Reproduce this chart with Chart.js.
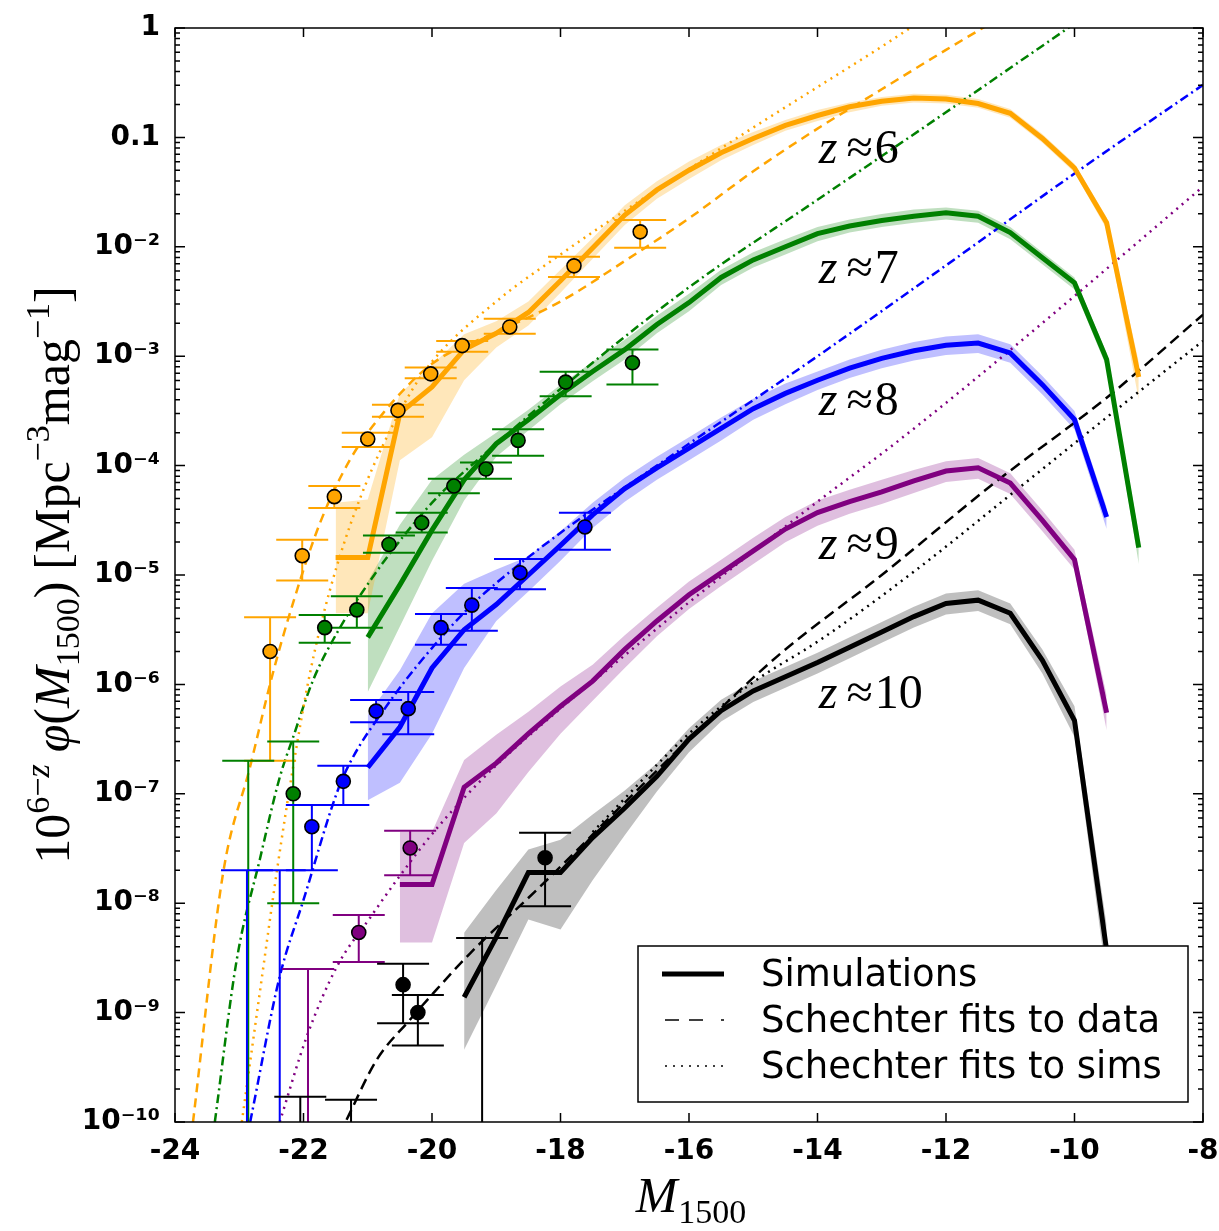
<!DOCTYPE html>
<html><head><meta charset="utf-8">
<script src="https://cdn.jsdelivr.net/npm/chart.js@4.4.0/dist/chart.umd.min.js"></script>
<style>html,body{margin:0;padding:0;background:#fff}canvas{display:block}</style>
</head><body>
<canvas id="c" width="1219" height="1231"></canvas>
<script>
// ---------- axis ticks ----------
const xTickVals = [-24,-22,-20,-18,-16,-14,-12,-10,-8];
const xTickLabels = ['-24','-22','-20','-18','-16','-14','-12','-10','-8'];
const yTickVals = [1e-10,1e-9,1e-8,1e-7,1e-6,1e-5,1e-4,1e-3,1e-2,0.1,1];
const yTickLabels = ['10\u207B\u00B9\u2070','10\u207B\u2079','10\u207B\u2078','10\u207B\u2077','10\u207B\u2076','10\u207B\u2075','10\u207B\u2074','10\u207B\u00B3','10\u207B\u00B2','0.1','1'];

// ---------- simulations (log10 phi) ----------
const simM = [-21.5,-21,-20.5,-20,-19.5,-19,-18.5,-18,-17.5,-17,-16.5,-16,-15.5,-15,-14.5,-14,-13.5,-13,-12.5,-12,-11.5,-11,-10.5,-10,-9.5,-9];
const sim6   = [-4.84,-4.84,-3.52,-3.28,-2.94,-2.79,-2.60,-2.31,-2.01,-1.71,-1.48,-1.30,-1.14,-1.01,-0.89,-0.80,-0.72,-0.67,-0.64,-0.65,-0.69,-0.78,-1.01,-1.28,-1.78,-3.19];
const sim6Hi = [-4.34,-4.31,-3.34,-3.08,-2.80,-2.68,-2.50,-2.21,-1.92,-1.62,-1.40,-1.22,-1.07,-0.95,-0.84,-0.75,-0.68,-0.63,-0.60,-0.61,-0.65,-0.74,-0.97,-1.24,-1.73,-3.05];
const sim6Lo = [-5.35,-5.35,-3.95,-3.74,-3.22,-2.92,-2.72,-2.42,-2.11,-1.80,-1.56,-1.38,-1.21,-1.07,-0.94,-0.85,-0.77,-0.71,-0.68,-0.69,-0.73,-0.82,-1.05,-1.32,-1.84,-3.40];
const sim7   = [null,-5.57,-5.09,-4.59,-4.13,-3.80,-3.58,-3.35,-3.14,-2.94,-2.71,-2.51,-2.28,-2.12,-2.00,-1.88,-1.81,-1.76,-1.72,-1.69,-1.72,-1.87,-2.10,-2.33,-3.03,-4.75];
const sim7Hi = [null,-5.06,-4.54,-4.13,-3.90,-3.70,-3.49,-3.26,-3.05,-2.85,-2.63,-2.43,-2.21,-2.05,-1.93,-1.82,-1.75,-1.70,-1.66,-1.64,-1.67,-1.82,-2.05,-2.28,-2.97,-4.62];
const sim7Lo = [null,-6.07,-5.47,-4.87,-4.32,-3.92,-3.68,-3.44,-3.23,-3.03,-2.79,-2.59,-2.35,-2.19,-2.07,-1.95,-1.87,-1.82,-1.78,-1.75,-1.78,-1.93,-2.16,-2.39,-3.10,-4.90];
const sim8   = [null,-6.76,-6.39,-5.85,-5.50,-5.27,-5.00,-4.73,-4.45,-4.21,-4.02,-3.84,-3.66,-3.48,-3.34,-3.22,-3.11,-3.02,-2.95,-2.90,-2.88,-2.97,-3.26,-3.58,-4.47,null];
const sim8Hi = [null,-6.28,-5.87,-5.35,-5.08,-4.95,-4.83,-4.60,-4.34,-4.11,-3.92,-3.74,-3.56,-3.39,-3.25,-3.14,-3.03,-2.94,-2.87,-2.82,-2.80,-2.89,-3.18,-3.50,-4.38,null];
const sim8Lo = [null,-7.06,-6.90,-6.45,-5.85,-5.42,-5.15,-4.87,-4.57,-4.33,-4.13,-3.95,-3.77,-3.58,-3.44,-3.31,-3.20,-3.11,-3.04,-2.99,-2.97,-3.06,-3.35,-3.67,-4.58,null];
const sim9   = [null,null,-7.83,-7.83,-6.94,-6.72,-6.45,-6.20,-5.97,-5.68,-5.42,-5.18,-4.98,-4.78,-4.58,-4.43,-4.33,-4.24,-4.14,-4.05,-4.02,-4.16,-4.50,-4.86,-6.26,null];
const sim9Hi = [null,null,-7.35,-7.35,-6.69,-6.46,-6.25,-6.02,-5.82,-5.55,-5.30,-5.06,-4.86,-4.66,-4.47,-4.32,-4.22,-4.13,-4.04,-3.96,-3.93,-4.07,-4.41,-4.77,-6.10,null];
const sim9Lo = [null,null,-8.36,-8.36,-7.45,-7.18,-6.80,-6.45,-6.15,-5.85,-5.56,-5.31,-5.10,-4.90,-4.70,-4.55,-4.44,-4.35,-4.25,-4.15,-4.12,-4.26,-4.60,-4.95,-6.42,null];
const sim10   = [null,null,null,null,-8.86,-8.31,-7.72,-7.72,-7.40,-7.13,-6.84,-6.50,-6.24,-6.06,-5.93,-5.80,-5.66,-5.52,-5.38,-5.26,-5.23,-5.35,-5.78,-6.33,-8.43,null];
const sim10Hi = [null,null,null,null,-8.27,-7.88,-7.51,-7.42,-7.19,-6.97,-6.72,-6.40,-6.14,-5.97,-5.84,-5.71,-5.57,-5.43,-5.29,-5.17,-5.14,-5.26,-5.68,-6.20,-8.20,null];
const sim10Lo = [null,null,null,null,-9.34,-8.75,-8.15,-8.24,-7.79,-7.38,-6.98,-6.62,-6.34,-6.16,-6.03,-5.90,-5.76,-5.62,-5.48,-5.36,-5.33,-5.45,-5.90,-6.48,-8.70,null];

// ---------- Schechter fits (M, log10 phi) ----------
const fit6DataM = [-23.72,-23.25,-22.83,-22.5,-22.16,-21.74,-21.28,-20.76,-20,-19,-18,-17,-16,-15,-14,-13,-12,-11.2];
const fit6Data  = [-10,-7.72,-6.75,-5.95,-5.25,-4.52,-3.95,-3.52,-3.07,-2.78,-2.5,-2.13,-1.74,-1.31,-0.92,-0.56,-0.2,0.08];
const fit6SimM = [-22.96,-22.7,-22.4,-22.16,-21.9,-21.59,-21.12,-20.4,-20,-19,-18,-17,-16,-15,-14,-13,-12.3];
const fit6Sim  = [-10,-8.9,-7.65,-6.75,-5.9,-5.14,-4.3,-3.4,-3.05,-2.5,-2.07,-1.67,-1.29,-0.91,-0.54,-0.17,0.1];
const fit7DataM = [-23.38,-23.04,-22.68,-22.37,-22.16,-21.85,-21.48,-20.96,-20.45,-19.92,-19,-18,-16,-14,-12,-10];
const fit7Data  = [-10,-8.52,-7.6,-6.85,-6.48,-5.96,-5.53,-5.05,-4.65,-4.29,-3.8,-3.3,-2.37,-1.57,-0.77,0.04];
const fit8DataM = [-22.83,-22.37,-22.0,-21.48,-21.28,-20.71,-20.19,-19.41,-18.89,-17.85,-16,-14,-12,-10,-8];
const fit8Data  = [-10,-8.67,-7.97,-6.99,-6.72,-6.2,-5.8,-5.29,-5.02,-4.55,-3.8,-3.0,-2.17,-1.33,-0.52];
const fit9SimM = [-22.37,-21.95,-21.48,-20.96,-20.55,-20.03,-19.52,-19,-18,-17.34,-16,-14,-12.8,-11.63,-10,-8];
const fit9Sim  = [-10,-9.22,-8.58,-8.13,-7.79,-7.39,-7.05,-6.74,-6.22,-5.9,-5.25,-4.33,-3.8,-3.25,-2.45,-1.45];
const fit10DataM = [-21.33,-20.86,-20.35,-19.93,-19.41,-18.32,-17,-16,-14.6,-13,-11.25,-9.48,-8];
const fit10Data  = [-9.98,-9.43,-9.07,-8.79,-8.46,-7.85,-7.08,-6.5,-5.73,-5.0,-4.16,-3.37,-2.62];
const fit10SimM = [-17.5,-16,-15,-13.95,-12.5,-10.94,-9.5,-8];
const fit10Sim  = [-7.35,-6.45,-5.98,-5.59,-4.97,-4.24,-3.56,-2.86];

// ---------- observations ----------
const obs6M   = [-22.52,-22.02,-21.52,-21.0,-20.53,-20.02,-19.53,-18.79,-17.79,-16.76];
const obs6Phi = [2.0e-6,1.5e-5,5.2e-5,1.75e-4,3.2e-4,6.9e-4,1.25e-3,1.85e-3,6.7e-3,1.37e-2];
const obs6Hi  = [4.1e-6,2.1e-5,6.5e-5,2.0e-4,3.6e-4,7.9e-4,1.38e-3,2.2e-3,8.1e-3,1.76e-2];
const obs6Lo  = [2.0e-7,8.9e-6,4.1e-5,1.48e-4,2.8e-4,6.3e-4,1.1e-3,1.6e-3,5.3e-3,9.8e-3];
const obs7M   = [-22.86,-22.16,-21.67,-21.17,-20.67,-20.16,-19.66,-19.16,-18.66,-17.92,-16.88];
const obs7Phi = [null,1.0e-7,3.3e-6,4.8e-6,1.9e-5,3.0e-5,6.5e-5,9.3e-5,1.7e-4,5.8e-4,8.7e-4];
const obs7Hi  = [2.0e-7,3.0e-7,4.3e-6,6.4e-6,2.3e-5,3.7e-5,7.6e-5,1.07e-4,2.15e-4,7.2e-4,1.15e-3];
const obs7Lo  = [null,1.0e-8,2.4e-6,3.3e-6,1.6e-5,2.45e-5,5.6e-5,7.6e-5,1.23e-4,4.3e-4,5.5e-4];
const obs8M   = [-22.88,-22.37,-21.87,-21.38,-20.87,-20.37,-19.86,-19.38,-18.63,-17.62];
const obs8Phi = [null,null,5.0e-8,1.3e-7,5.7e-7,6.0e-7,3.3e-6,5.3e-6,1.05e-5,2.75e-5];
const obs8Hi  = [2.0e-8,2.0e-8,7.9e-8,1.8e-7,7.2e-7,8.5e-7,4.4e-6,7.6e-6,1.4e-5,3.7e-5];
const obs8Lo  = [null,null,2.0e-8,7.9e-8,4.5e-7,3.5e-7,2.3e-6,3.1e-6,7.4e-6,1.7e-5];
const obs9M   = [-21.93,-21.14,-20.34];
const obs9Phi = [null,5.4e-9,3.2e-8];
const obs9Hi  = [2.5e-9,7.8e-9,4.6e-8];
const obs9Lo  = [null,2.9e-9,1.8e-8];
const obs10M   = [-22.05,-21.26,-20.45,-20.22,-19.22,-18.24];
const obs10Phi = [null,null,1.8e-9,1.0e-9,null,2.6e-8];
const obs10Hi  = [1.7e-10,1.6e-10,2.8e-9,1.45e-9,4.8e-9,4.4e-8];
const obs10Lo  = [null,null,8.0e-10,5.0e-10,null,9.4e-9];

// ---------- annotations ----------
const zLabels = ['6','7','8','9','10'];
const zLabelM = [-13.98,-13.98,-13.98,-13.98,-13.98];
const zLabelPhi = [5.8e-2,4.7e-3,2.9e-4,1.4e-5,6.1e-7];
const legendLabels = ['Simulations','Schechter fits to data','Schechter fits to sims'];

// ---------- styles ----------
const C = {6:'rgb(255,165,0)',7:'rgb(0,128,0)',8:'rgb(0,0,255)',9:'rgb(128,0,128)',10:'rgb(0,0,0)'};
const CB = {6:'rgba(255,165,0,0.27)',7:'rgba(0,128,0,0.25)',8:'rgba(0,0,255,0.25)',9:'rgba(128,0,128,0.25)',10:'rgba(0,0,0,0.25)'};

function pts(M, logs){ const o=[]; M.forEach((m,i)=>{ if(logs[i]!==null) o.push({x:m,y:Math.pow(10,logs[i])}); }); return o; }

const datasets = [];
const sims = {6:[sim6,sim6Hi,sim6Lo],7:[sim7,sim7Hi,sim7Lo],8:[sim8,sim8Hi,sim8Lo],9:[sim9,sim9Hi,sim9Lo],10:[sim10,sim10Hi,sim10Lo]};
[6,7,8,9,10].forEach(z=>{
  datasets.push({data:pts(simM,sims[z][1]),borderWidth:0,borderColor:'transparent',backgroundColor:CB[z],pointRadius:0,fill:'+1',order:5,clip:0,tension:0});
  datasets.push({data:pts(simM,sims[z][2]),borderWidth:0,borderColor:'transparent',pointRadius:0,fill:false,order:5,clip:0,tension:0});
});
function fitDs(M,L,z,dash){ return {data:pts(M,L),borderColor:C[z],borderWidth:2.5,borderDash:dash,pointRadius:0,fill:false,order:3,clip:0,cubicInterpolationMode:'monotone'}; }
datasets.push(fitDs(fit6DataM,fit6Data,6,[9,6]));
datasets.push(fitDs(fit6SimM,fit6Sim,6,[2,5]));
datasets.push(fitDs(fit7DataM,fit7Data,7,[9,4,2,4]));
datasets.push(fitDs(fit8DataM,fit8Data,8,[9,4,2,4]));
datasets.push(fitDs(fit9SimM,fit9Sim,9,[2,5]));
datasets.push(fitDs(fit10DataM,fit10Data,10,[11,6]));
datasets.push(fitDs(fit10SimM,fit10Sim,10,[2,5]));
[6,7,8,9,10].forEach(z=>{
  datasets.push({data:pts(simM,sims[z][0]),borderColor:C[z],borderWidth:5,pointRadius:0,fill:false,order:1,clip:0,tension:0});
});

const obsSets = [
  {z:6,M:obs6M,phi:obs6Phi,hi:obs6Hi,lo:obs6Lo},
  {z:7,M:obs7M,phi:obs7Phi,hi:obs7Hi,lo:obs7Lo},
  {z:8,M:obs8M,phi:obs8Phi,hi:obs8Hi,lo:obs8Lo},
  {z:9,M:obs9M,phi:obs9Phi,hi:obs9Hi,lo:obs9Lo},
  {z:10,M:obs10M,phi:obs10Phi,hi:obs10Hi,lo:obs10Lo}
];

function drawRich(ctx, parts, x, y){
  let cx = x;
  parts.forEach(p=>{ ctx.font=p.f; ctx.fillText(p.t, cx, y+(p.dy||0)); cx += ctx.measureText(p.t).width + (p.gap||0); });
}
function richWidth(ctx, parts){
  let w=0; parts.forEach(p=>{ ctx.font=p.f; w += ctx.measureText(p.t).width + (p.gap||0); }); return w;
}

const decor = {
  id:'decor',
  afterDatasetsDraw(chart){
    const {ctx, chartArea:a, scales:{x,y}} = chart;
    ctx.save();
    ctx.beginPath(); ctx.rect(a.left,a.top,a.right-a.left,a.bottom-a.top); ctx.clip();
    obsSets.forEach(s=>{
      ctx.strokeStyle=C[s.z]; ctx.lineWidth=2;
      s.M.forEach((m,i)=>{
        const px=x.getPixelForValue(m), yh=y.getPixelForValue(s.hi[i]);
        const yl = s.lo[i]===null ? a.bottom+10 : y.getPixelForValue(s.lo[i]);
        ctx.beginPath(); ctx.moveTo(px,yh); ctx.lineTo(px,yl);
        ctx.moveTo(px-26,yh); ctx.lineTo(px+26,yh);
        if(s.lo[i]!==null){ ctx.moveTo(px-26,yl); ctx.lineTo(px+26,yl); }
        ctx.stroke();
      });
      s.M.forEach((m,i)=>{
        if(s.phi[i]===null) return;
        const px=x.getPixelForValue(m), py=y.getPixelForValue(s.phi[i]);
        ctx.beginPath(); ctx.arc(px,py,7,0,Math.PI*2);
        ctx.fillStyle=C[s.z]; ctx.fill(); ctx.lineWidth=1.6; ctx.strokeStyle='#000'; ctx.stroke();
        ctx.strokeStyle=C[s.z]; ctx.lineWidth=2;
      });
    });
    ctx.restore();
  },
  afterDraw(chart){
    const {ctx, chartArea:a, scales:{x,y}} = chart;
    ctx.save();
    // frame + ticks
    ctx.strokeStyle='#000'; ctx.lineWidth=1.5;
    ctx.strokeRect(a.left,a.top,a.right-a.left,a.bottom-a.top);
    ctx.beginPath();
    xTickVals.forEach(v=>{ const px=x.getPixelForValue(v);
      ctx.moveTo(px,a.bottom); ctx.lineTo(px,a.bottom-9);
      ctx.moveTo(px,a.top); ctx.lineTo(px,a.top+9); });
    for(let e=-10;e<=0;e++){
      const py=y.getPixelForValue(Math.pow(10,e));
      ctx.moveTo(a.left,py); ctx.lineTo(a.left+10,py);
      ctx.moveTo(a.right,py); ctx.lineTo(a.right-10,py);
      if(e<0){ for(let k=2;k<=9;k++){ const pm=y.getPixelForValue(k*Math.pow(10,e));
        ctx.moveTo(a.left,pm); ctx.lineTo(a.left+5,pm);
        ctx.moveTo(a.right,pm); ctx.lineTo(a.right-5,pm); } }
    }
    ctx.stroke();
    // z labels
    ctx.fillStyle='#000'; ctx.textBaseline='alphabetic'; ctx.textAlign='left';
    zLabels.forEach((t,i)=>{
      const px=x.getPixelForValue(zLabelM[i]), py=y.getPixelForValue(zLabelPhi[i]);
      drawRich(ctx,[{t:'z',f:'italic 48px "Liberation Serif"',gap:9},{t:'\u2248',f:'48px "Liberation Serif"',gap:2},{t:t,f:'48px "Liberation Serif"'}],px,py);
    });
    // x title
    const xt=[{t:'M',f:'italic 50px "Liberation Serif"',gap:1},{t:'1500',f:'34px "Liberation Serif"',dy:11}];
    drawRich(ctx,xt,(a.left+a.right)/2 - richWidth(ctx,xt)/2 + 2, 1212);
    // y title
    const B='50px "Liberation Serif"', BI='italic 50px "Liberation Serif"', S='34px "Liberation Serif"', SI='italic 34px "Liberation Serif"';
    const yt=[{t:'10',f:B},{t:'6\u2212',f:S,dy:-20},{t:'z',f:SI,dy:-20,gap:12},
      {t:'\u03C6',f:BI},{t:'(',f:B},{t:'M',f:BI},
      {t:'1500',f:S,dy:10},{t:')',f:B,gap:12},{t:'[Mpc',f:B},
      {t:'\u22123',f:S,dy:-20},{t:'mag',f:B},{t:'\u22121',f:S,dy:-20},
      {t:']',f:B}];
    ctx.save(); ctx.translate(69,(a.top+a.bottom)/2); ctx.rotate(-Math.PI/2);
    drawRich(ctx,yt,-richWidth(ctx,yt)/2,0); ctx.restore();
    // legend
    const L=a.right-15-550, T=a.bottom-20-156, W=550, H=156;
    ctx.fillStyle='#fff'; ctx.fillRect(L,T,W,H);
    ctx.lineWidth=1.5; ctx.strokeStyle='#000'; ctx.strokeRect(L,T,W,H);
    const rows=[T+28,T+74,T+120];
    ctx.strokeStyle='#000';
    ctx.lineWidth=5; ctx.setLineDash([]); ctx.beginPath(); ctx.moveTo(L+24,rows[0]); ctx.lineTo(L+86,rows[0]); ctx.stroke();
    ctx.lineWidth=1.5; ctx.beginPath();
    ctx.moveTo(L+27,rows[1]); ctx.lineTo(L+41,rows[1]); ctx.moveTo(L+51,rows[1]); ctx.lineTo(L+65,rows[1]);
    ctx.moveTo(L+83,rows[1]); ctx.lineTo(L+86,rows[1]); ctx.stroke();
    ctx.setLineDash([2,6]); ctx.beginPath(); ctx.moveTo(L+27,rows[2]); ctx.lineTo(L+88,rows[2]); ctx.stroke(); ctx.setLineDash([]);
    ctx.fillStyle='#000'; ctx.font='37px "DejaVu Sans"'; ctx.textBaseline='middle';
    legendLabels.forEach((t,i)=>ctx.fillText(t,L+123,rows[i]+2));
    ctx.restore();
  }
};

new Chart(document.getElementById('c'),{
  type:'line',
  data:{datasets},
  options:{
    responsive:false, animation:false, devicePixelRatio:1,
    layout:{padding:{left:0,right:16,top:28,bottom:0}},
    plugins:{legend:{display:false},tooltip:{enabled:false}},
    scales:{
      x:{type:'linear',min:-24,max:-8,
        afterBuildTicks:s=>{s.ticks=xTickVals.map(v=>({value:v}));},
        ticks:{callback:(v,i)=>xTickLabels[i],font:{family:'DejaVu Sans',size:28,weight:'bold'},color:'#000',padding:13,maxRotation:0,autoSkip:false},
        grid:{display:false,drawTicks:false},border:{display:false},
        afterFit:s=>{s.height=109; s.paddingLeft=0; s.paddingRight=0;}},
      y:{type:'logarithmic',min:1e-10,max:1,
        afterBuildTicks:s=>{s.ticks=yTickVals.map(v=>({value:v}));},
        ticks:{callback:(v,i)=>yTickLabels[i],font:{family:'DejaVu Sans',size:28,weight:'bold'},color:'#000',padding:15,autoSkip:false},
        grid:{display:false,drawTicks:false},border:{display:false},
        afterFit:s=>{s.width=175; s.paddingTop=0; s.paddingBottom=0;}}
    }
  },
  plugins:[decor]
});
</script>
</body></html>
